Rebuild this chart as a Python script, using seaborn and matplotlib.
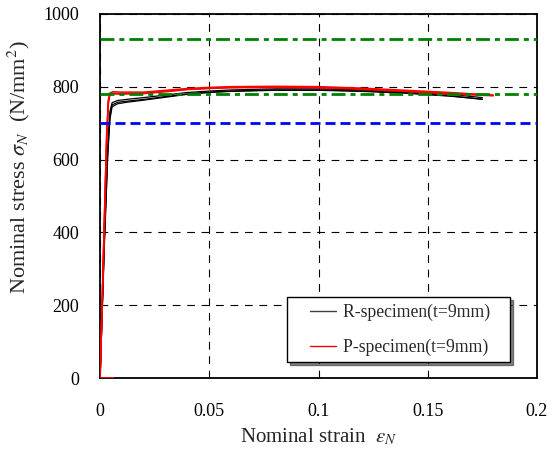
import pandas as pd
import numpy as np
import matplotlib
matplotlib.use('Agg')
import matplotlib.pyplot as plt
import seaborn as sns
from matplotlib.lines import Line2D
from matplotlib.legend_handler import HandlerLine2D

# strain / stress readings for each specimen
r_strain = [0, 0.002, 0.0035, 0.0045, 0.0055, 0.008, 0.012, 0.02, 0.03, 0.04,
            0.05, 0.06, 0.08, 0.1, 0.12, 0.14, 0.16, 0.175]
r1_stress = [0, 380, 620, 718, 750, 757, 760, 765, 773, 780, 785, 788, 791, 791, 788, 783, 775, 765]
r2_stress = [0, 390, 640, 732, 756, 762, 765, 770, 777, 784, 788, 791, 794, 794, 791, 786, 779, 770]
r3_stress = [0, 370, 610, 710, 745, 753, 757, 763, 771, 779, 784, 787, 790, 790, 787, 782, 774, 766]

p_strain = [0.006, 0, 0.0015, 0.003, 0.0038, 0.0045, 0.006, 0.01, 0.02, 0.03, 0.04,
            0.05, 0.06, 0.08, 0.1, 0.12, 0.14, 0.16, 0.18]
p1_stress = [0, 0, 330, 660, 760, 783, 786, 785, 785, 790, 795, 798, 800, 801, 800, 796, 790, 784, 777]
p2_stress = [0, 0, 340, 670, 765, 780, 782, 781, 782, 788, 793, 796, 798, 799, 798, 794, 788, 782, 776]
p3_stress = [0, 0, 320, 650, 755, 778, 780, 780, 781, 786, 792, 795, 797, 798, 797, 793, 787, 780, 775]

ref_lines_green = [930, 780]
ref_line_blue = 700

labels = ['R-specimen(t=9mm)', 'P-specimen(t=9mm)']

rows = []
for name, s in [('R1', r1_stress), ('R2', r2_stress), ('R3', r3_stress)]:
    for i in range(len(r_strain)):
        rows.append({'strain': r_strain[i], 'stress': s[i], 'type': 'R', 'spec': name})
for name, s in [('P1', p1_stress), ('P2', p2_stress), ('P3', p3_stress)]:
    for i in range(len(p_strain)):
        rows.append({'strain': p_strain[i], 'stress': s[i], 'type': 'P', 'spec': name})
df = pd.DataFrame(rows)


# legend line drawn only in the right part of the handle box
class OffsetLine(HandlerLine2D):
    def create_artists(self, legend, orig_handle, xdescent, ydescent, width, height, fontsize, trans):
        y = height / 2 - ydescent
        line = Line2D([-xdescent + width * 0.375, -xdescent + width * 0.95], [y, y],
                      color=orig_handle.get_color(), lw=orig_handle.get_linewidth())
        line.set_transform(trans)
        return [line]


sns.set_style('white')
plt.rcParams['font.family'] = ['Liberation Serif', 'DejaVu Serif']
plt.rcParams['mathtext.fontset'] = 'stix'

fig = plt.figure(figsize=(5.53, 4.61), dpi=100)
ax = fig.add_axes([0.181, 0.180, 0.790, 0.790])

sns.lineplot(data=df[df['type'] == 'R'], x='strain', y='stress', units='spec', estimator=None,
             sort=False, color='black', lw=0.9, ax=ax, legend=False, zorder=3)
sns.lineplot(data=df[df['type'] == 'P'], x='strain', y='stress', units='spec', estimator=None,
             sort=False, color='red', lw=1.1, ax=ax, legend=False, zorder=4)

ax.axhline(ref_lines_green[0], color='green', lw=2, dashes=(5, 1.8, 1.8, 1.8), zorder=5)
ax.axhline(ref_lines_green[1], color='green', lw=2, dashes=(5, 1.8, 1.8, 1.8), zorder=5)
ax.axhline(ref_line_blue, color='blue', lw=2, dashes=(3.6, 1.8), zorder=5)

ax.set_xlim(0, 0.2)
ax.set_ylim(0, 1000)
ax.set_xticks([0, 0.05, 0.1, 0.15, 0.2])
ax.set_xticklabels(['0', '0.05', '0.1', '0.15', '0.2'])
ax.set_yticks([0, 200, 400, 600, 800, 1000])
ax.grid(True, color='black', lw=0.8, dashes=(7, 6))
ax.tick_params(direction='in', length=4, labelsize=13, colors='black')
ax.tick_params(axis='x', pad=18)
ax.tick_params(axis='y', pad=15)
for sp in ax.spines.values():
    sp.set_color('black')
    sp.set_linewidth(1.3)

ax.set_xlabel(r'Nominal strain  $\varepsilon_N$', fontsize=15, labelpad=5)
ax.set_ylabel(r'Nominal stress $\sigma_N$  (N/mm$^2$)', fontsize=16)
ax.yaxis.set_label_coords(-0.155, 0.58)

handles = [Line2D([], [], color='#404040', lw=1), Line2D([], [], color='red', lw=1)]
leg = ax.legend(handles, [lab + '   ' for lab in labels], loc='lower right',
                bbox_to_anchor=(0.938, 0.044),
                fontsize=12.7, frameon=True, fancybox=False,
                shadow={'color': '#333333', 'alpha': 0.6},
                edgecolor='black', handlelength=2.55, handletextpad=0.28,
                borderpad=0.35, labelspacing=1.0, borderaxespad=0,
                handler_map={Line2D: OffsetLine()})
leg.get_frame().set_linewidth(1)

fig.savefig('out.png', dpi=100)
